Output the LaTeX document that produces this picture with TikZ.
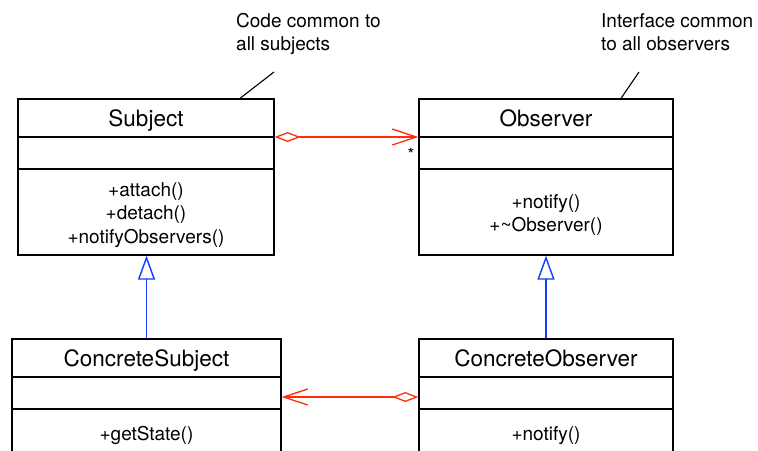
\documentclass[tikz,border=0pt]{standalone}
\usepackage{fontspec}
\setmainfont{TeX Gyre Heros}
\usetikzlibrary{arrows.meta}
\definecolor{assoccol}{RGB}{255,45,10}
\definecolor{gencol}{RGB}{15,60,255}
\begin{document}
\begin{tikzpicture}[x=1pt,y=-1pt,
  classbox/.style={draw=black, line width=1.3pt, inner sep=0pt},
  compsep/.style={draw=black, line width=1.3pt},
  titletext/.style={font=\fontsize{22.5}{27}\selectfont, anchor=base, inner sep=0pt},
  membertext/.style={font=\fontsize{19}{23}\selectfont, anchor=base, inner sep=0pt},
  notetext/.style={font=\fontsize{19}{23}\selectfont, anchor=base west, inner sep=0pt},
  leader/.style={draw=black, line width=1.1pt},
  gen/.style={draw=gencol, line width=1.4pt,
    -{Triangle[open, length=24pt, width=17pt, fill=white]}},
  assoc/.style={draw=assoccol, line width=1.3pt,
    {Diamond[open, length=26pt, width=10pt, fill=white]}-{Straight Barb[length=24pt, width=16pt]}},
  multtext/.style={font=\fontsize{17}{19}\selectfont, inner sep=0pt}
]
\useasboundingbox (0,0) rectangle (758,450);
\clip (0,0) rectangle (758,450);

% class boxes
\node[classbox, minimum width=256pt, minimum height=156pt] (subj) at (146,177) {};
\node[classbox, minimum width=254pt, minimum height=156pt] (obs) at (546,177) {};
\node[classbox, minimum width=269pt, minimum height=116pt] (csubj) at (146.5,397) {};
\node[classbox, minimum width=254pt, minimum height=116pt] (cobs) at (546,397) {};

% compartment separators
\foreach \b in {subj,obs} {
  \draw[compsep] ([yshift=40pt]\b.west) -- ([yshift=40pt]\b.east);
  \draw[compsep] ([yshift=8pt]\b.west) -- ([yshift=8pt]\b.east);
}
\foreach \b in {csubj,cobs} {
  \draw[compsep] ([yshift=20pt]\b.west) -- ([yshift=20pt]\b.east);
  \draw[compsep] ([yshift=-12pt]\b.west) -- ([yshift=-12pt]\b.east);
}

% class names
\node[titletext] (subjname) at (146,126) {Subject};
\node[titletext] (obsname) at (546,126) {Observer};
\node[titletext] (csubjname) at (146.5,366.5) {ConcreteSubject};
\node[titletext] (cobsname) at (546,366.5) {ConcreteObserver};

% operations
\node[membertext] (subjop1) at (146,196) {+attach()};
\node[membertext] (subjop2) at (146,219.5) {+detach()};
\node[membertext] (subjop3) at (146,243) {+notifyObservers()};
\node[membertext] (obsop1) at (546,208) {+notify()};
\node[membertext] (obsop2) at (546,231.5) {+\char`\~Observer()};
\node[membertext] (csubjop1) at (146.5,440) {+getState()};
\node[membertext] (cobsop1) at (546,440) {+notify()};

% notes
\node[notetext] (note1a) at (236,27) {Code common to};
\node[notetext] (note1b) at (236,50.5) {all subjects};
\node[notetext] (note2a) at (601,27) {Interface common};
\node[notetext] (note2b) at (601,50.5) {to all observers};
\coordinate (note1end) at (274,72);
\coordinate (note2end) at (639,72);
\draw[leader] (note1end) -- ([xshift=94pt]subj.north);
\draw[leader] (note2end) -- ([xshift=75pt]obs.north);

% generalisation
\draw[gen] (csubj.north) -- (csubj.north |- subj.south);
\draw[gen] (cobs.north) -- (obs.south);

% associations
\draw[assoc] ([yshift=40pt]subj.east) -- ([yshift=40pt]obs.west);
\draw[assoc] (cobs.west) -- (csubj.east);
\node[multtext] (mult) at (411,154) {*};
\end{tikzpicture}
\end{document}
